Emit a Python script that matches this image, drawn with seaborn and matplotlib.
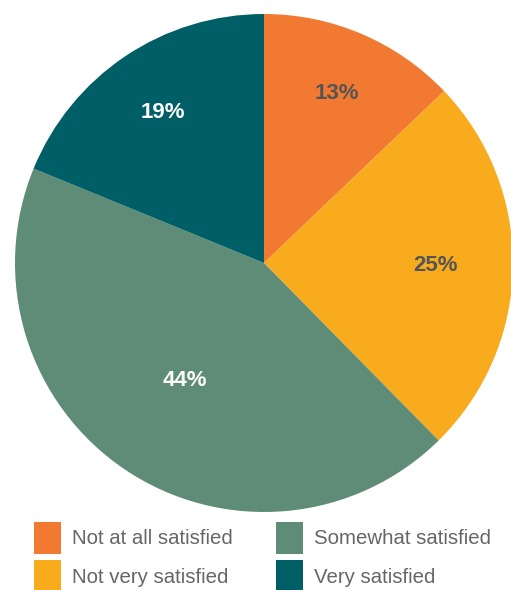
import matplotlib
matplotlib.use("Agg")
import matplotlib.pyplot as plt
from matplotlib.patches import Patch
import numpy as np
import seaborn as sns

categories = ["Not at all satisfied", "Not very satisfied", "Somewhat satisfied", "Very satisfied"]
values = [13, 25, 44, 19]
labels = ["13%", "25%", "44%", "19%"]
colors = ["#F27932", "#F9AB1E", "#5F8C77", "#005F66"]
label_colors = ["#555555", "#555555", "white", "white"]
label_radii = [0.74, 0.69, 0.57, 0.73]

sns.set_theme(style="white")
plt.rcParams["font.family"] = ["Liberation Sans", "DejaVu Sans"]

fig = plt.figure(figsize=(5.11, 5.90), dpi=100)
ax = fig.add_axes([15 / 511, (590 - 512) / 590, 498 / 511, 498 / 590])
wedges, _ = ax.pie(values, colors=colors, startangle=90, counterclock=False,
                   radius=1, wedgeprops=dict(linewidth=0))
for w, lab, col, r in zip(wedges, labels, label_colors, label_radii):
    ang = np.deg2rad((w.theta1 + w.theta2) / 2)
    ax.text(r * np.cos(ang), r * np.sin(ang), lab, color=col, fontsize=16,
            fontweight="bold", ha="center", va="center")
ax.set_xlim(-1, 1)
ax.set_ylim(-1, 1)
ax.set_aspect("equal")
ax.axis("off")

fs = 14.7
fpx = fs * 100 / 72
handles = [Patch(facecolor=c, edgecolor="none") for c in colors]
leg = fig.legend(handles, categories, loc="upper left", bbox_to_anchor=(34 / 511, 1 - 522 / 590),
                 ncol=2, frameon=False, fontsize=fs, handlelength=27 / fpx,
                 handleheight=27 / fpx + 0.7,
                 handletextpad=11 / fpx, columnspacing=43 / fpx, labelspacing=6.5 / fpx,
                 borderaxespad=0, borderpad=0)
for t in leg.get_texts():
    t.set_color("#666666")

fig.savefig("out.png", dpi=100)
